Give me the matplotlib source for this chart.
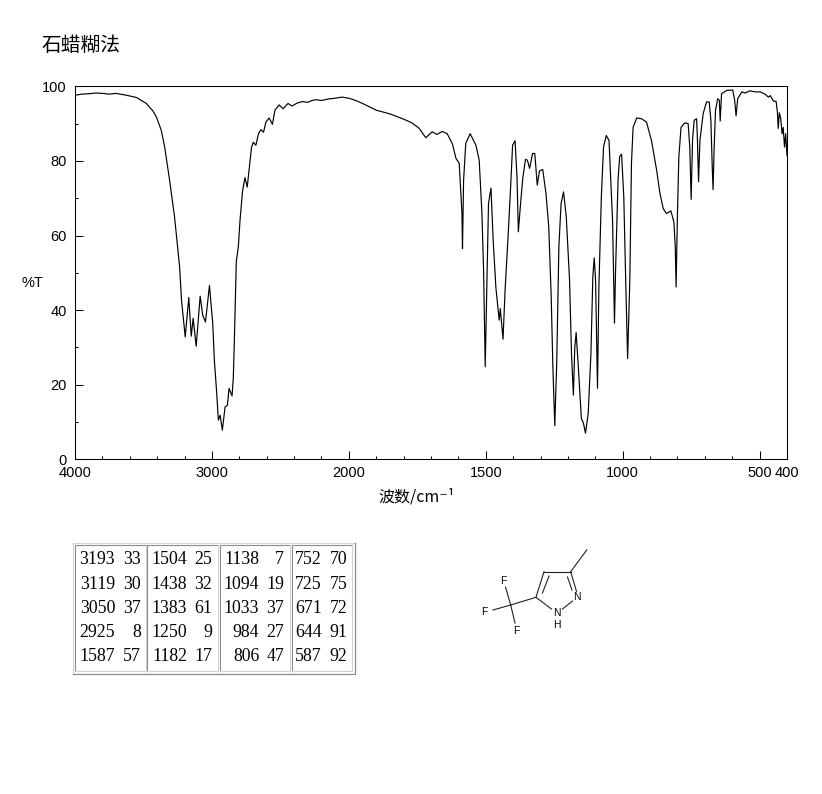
import matplotlib
matplotlib.use("Agg")
import matplotlib.pyplot as plt
import numpy as np

# spectrum
wavenumber = [4000, 3950, 3900, 3850, 3800, 3750, 3700, 3624, 3551, 3479, 3431, 3406, 3370, 3345, 3309, 3273, 3236, 3222,
              3195, 3169, 3151, 3137, 3115, 3086, 3067, 3047, 3018, 2994, 2982, 2965, 2953, 2940, 2924, 2904,
              2887, 2875, 2853, 2844, 2836, 2827, 2822, 2807, 2795, 2776, 2759, 2742, 2727, 2711, 2698, 2679,
              2660, 2642, 2623, 2606, 2582, 2558, 2540, 2509, 2480, 2444, 2415, 2378, 2340, 2300, 2270, 2240, 2200, 2150,
              2100, 2050, 2000, 1975, 1950, 1900, 1850, 1800, 1770, 1744, 1719, 1696, 1678, 1659, 1641, 1622,
              1609, 1597, 1587, 1585, 1581, 1573, 1557, 1536, 1524, 1514, 1508, 1502, 1495, 1490, 1481, 1473,
              1463, 1451, 1447, 1437, 1429, 1420, 1411, 1402, 1393, 1386, 1381, 1374, 1365, 1355, 1348, 1340,
              1329, 1321, 1312, 1304, 1292, 1280, 1270, 1261, 1255, 1248, 1241, 1233, 1225, 1216, 1206, 1194,
              1187, 1180, 1175, 1170, 1162, 1151, 1143, 1136, 1126, 1116, 1109, 1104, 1099, 1092, 1087, 1078,
              1070, 1060, 1050, 1037, 1030, 1026, 1017, 1011, 1004, 996, 989, 982, 974, 968, 962, 949,
              931, 913, 895, 876, 864, 852, 840, 824, 813, 808, 805, 800, 795, 787, 773, 761,
              755, 750, 745, 739, 730, 727, 723, 718, 706, 694, 684, 678, 673, 670, 666, 661,
              653, 647, 644, 639, 620, 598, 591, 586, 580, 565, 553, 535, 516, 498, 480, 468,
              461, 449, 440, 435, 432, 428, 423, 418, 414, 409, 405, 400]
transmittance = [97.6, 97.9, 98.0, 98.2, 98.1, 97.9, 98.1, 97.6, 97.0, 95.4, 93.4, 91.8, 88.2, 83.7, 74.8, 65.0, 51.6, 42.6,
                 32.8, 43.4, 33.0, 37.8, 30.3, 43.7, 38.6, 36.8, 46.6, 36.4, 26.5, 17.7, 10.5, 11.8, 7.8, 14.0,
                 14.5, 19.0, 17.0, 21.7, 32.0, 45.0, 53.0, 57.0, 64.0, 72.0, 75.5, 73.0, 78.0, 83.6, 85.0, 84.2,
                 87.3, 88.4, 87.7, 90.4, 91.5, 89.8, 93.6, 95.0, 94.0, 95.4, 94.7, 95.5, 95.9, 95.7, 96.2, 96.4, 96.2, 96.6,
                 96.8, 97.1, 96.8, 96.2, 95.4, 93.6, 92.6, 91.2, 90.2, 88.8, 86.2, 87.8, 87.1, 87.9, 87.3, 84.6,
                 80.7, 79.4, 65.9, 56.5, 74.8, 84.7, 87.3, 84.2, 80.2, 65.9, 50.7, 24.8, 49.8, 68.6, 72.7, 58.7,
                 46.0, 37.3, 40.4, 32.2, 46.0, 57.8, 70.3, 84.2, 85.4, 75.7, 61.0, 67.6, 75.3, 80.4, 80.2, 78.0,
                 82.0, 82.0, 73.5, 77.3, 77.7, 71.2, 62.3, 43.5, 24.8, 9.0, 25.7, 57.0, 68.6, 71.7, 65.0, 48.0,
                 28.4, 17.2, 30.0, 34.0, 24.8, 11.0, 9.6, 7.0, 12.2, 28.4, 49.0, 54.0, 48.0, 19.0, 46.0, 70.3,
                 83.7, 86.8, 85.5, 64.0, 36.5, 50.7, 74.8, 81.2, 81.8, 70.3, 48.0, 27.0, 48.0, 79.3, 89.0, 91.5,
                 91.3, 90.4, 85.5, 77.5, 71.3, 67.2, 65.9, 66.6, 63.6, 56.9, 46.2, 65.9, 81.0, 89.0, 90.2, 90.0,
                 83.7, 69.7, 85.5, 90.9, 91.3, 85.5, 74.4, 85.5, 92.7, 95.8, 95.8, 90.9, 78.4, 72.3, 83.7, 93.6,
                 96.7, 96.2, 90.7, 98.0, 98.9, 99.0, 96.2, 92.1, 96.7, 98.5, 98.2, 98.8, 98.5, 98.5, 97.9, 97.1,
                 97.5, 96.0, 96.0, 93.1, 88.7, 92.9, 91.4, 87.3, 89.0, 83.7, 87.3, 81.5]

major_ticks = [4000, 3000, 2000, 1500, 1000, 500, 400]
major_labels = ["4000", "3000", "2000", "1500", "1000", "500", "400"]
minor_ticks = [3800, 3600, 3400, 3200, 2800, 2600, 2400, 2200, 1900, 1800, 1700, 1600,
               1400, 1300, 1200, 1100, 900, 800, 700, 600]

# peak table, one list per block
table_wn = [["3193", "3119", "3050", "2925", "1587"],
            ["1504", "1438", "1383", "1250", "1182"],
            ["1138", "1094", "1033", "984", "806"],
            ["752", "725", "671", "644", "587"]]
table_t = [["33", "30", "37", "8", "57"],
           ["25", "32", "61", "9", "17"],
           ["7", "19", "37", "27", "47"],
           ["70", "75", "72", "91", "92"]]

sans = ["Liberation Sans", "DejaVu Sans"]
cjk = ["Noto Sans CJK SC", "DejaVu Sans"]


# the x axis is compressed by two above 2000 cm-1
def forward(w):
    return np.interp(w, [400, 2000, 4000], [0, 1600, 2600])


def inverse(p):
    return np.interp(p, [0, 1600, 2600], [400, 2000, 4000])


fig = plt.figure(figsize=(8.22, 7.94), dpi=100)
ax = fig.add_axes([75 / 822, 1 - 459.3 / 794, 712 / 822, 373 / 794])
ax.set_xscale("function", functions=(forward, inverse))
ax.plot(wavenumber, transmittance, color="black", lw=0.85)
ax.set_xlim(4000, 400)
ax.set_ylim(0, 100)

ax.set_xticks(major_ticks)
ax.set_xticklabels(major_labels, family=sans, fontsize=10.5)
ax.set_xticks(minor_ticks, minor=True)
ax.set_yticks([0, 20, 40, 60, 80, 100])
ax.set_yticklabels(["0", "20", "40", "60", "80", "100"], family=sans, fontsize=10.5)
ax.set_yticks([10, 30, 50, 70, 90], minor=True)
ax.tick_params(axis="both", which="major", direction="in", length=5.5, width=0.75)
ax.tick_params(axis="both", which="minor", direction="in", length=2.5, width=0.75)
ax.tick_params(axis="x", which="major", pad=5)
ax.tick_params(axis="y", which="major", pad=6)
for s in ax.spines.values():
    s.set_linewidth(0.75)

# everything outside the plot goes on an overlay in pixel coordinates
ov = fig.add_axes([0, 0, 1, 1])
ov.set_xlim(0, 822)
ov.set_ylim(794, 0)
ov.axis("off")
ov.patch.set_visible(False)

ov.text(42, 45, "石蜡糊法", family=cjk, fontsize=14.2, va="center", ha="left", fontweight="light")
ov.text(32, 283, "%T", family=sans, fontsize=10.5, va="center", ha="center")
ov.text(417, 497, "波数/cm⁻¹", family=cjk, fontsize=11.5, va="center", ha="center")

# peak table frame
ov.plot([73, 73, 355], [674, 543, 543], color="#d4d4d4", lw=0.8)
ov.plot([73, 355, 355], [674, 674, 543], color="#8c8c8c", lw=0.9)
cell_left = [75, 147.3, 219.7, 291.7]
cell_right = [145.7, 218, 290, 352]
wn_right = [115, 187.3, 259.3, 321.7]
t_right = [141, 212.3, 284, 347.3]
row_y = [560, 584.3, 608.3, 632.3, 656.7]
for c in range(4):
    ov.plot([cell_left[c], cell_left[c], cell_right[c]], [671, 545, 545], color="#8c8c8c", lw=0.8)
    ov.plot([cell_left[c], cell_right[c], cell_right[c]], [671, 671, 545], color="#d0d0d0", lw=0.8)
    for r in range(5):
        ov.text(wn_right[c], row_y[r], table_wn[c][r], family="Liberation Serif", fontsize=12.8,
                ha="right", va="center")
        ov.text(t_right[c], row_y[r], table_t[c][r], family="Liberation Serif", fontsize=12.8,
                ha="right", va="center")

# structure drawing
bonds = [((586.7, 550), (570.7, 571.7)), ((570.7, 571.7), (544, 571.7)), ((544, 571.7), (536, 597.3)),
         ((549, 576), (542.5, 593)), ((570.7, 571.7), (576.5, 591.5)), ((567.5, 577), (572, 590)),
         ((536, 597.3), (551.5, 609)), ((562.5, 609), (572.5, 601)), ((536, 597.3), (510.7, 605)),
         ((510.7, 605), (505.5, 587)), ((510.7, 605), (493, 610)), ((510.7, 605), (515, 623))]
for a, b in bonds:
    ov.plot([a[0], b[0]], [a[1], b[1]], color="#222222", lw=0.8)
atoms = [("F", 503.3, 580.7), ("F", 484, 612.3), ("F", 516, 631), ("N", 556.7, 613.3),
         ("H", 556.7, 625), ("N", 577.3, 597.3)]
for name, ax_x, ax_y in atoms:
    ov.text(ax_x, ax_y, name, family="Liberation Sans", fontsize=7.5, ha="center", va="center")

fig.savefig("out.png", dpi=100)
